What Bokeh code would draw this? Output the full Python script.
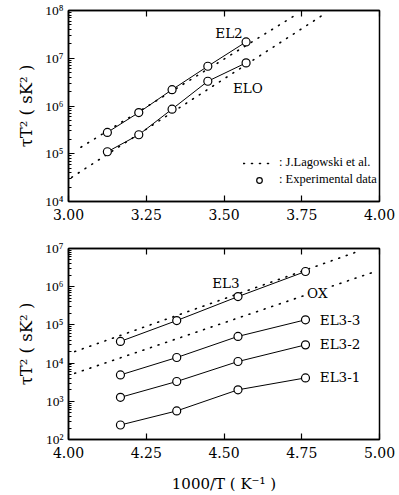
from bokeh.plotting import figure
from bokeh.models import (FixedTicker, CustomJSTickFormatter, LinearAxis, Label,
                          Legend, LegendItem, NumeralTickFormatter, Range1d)
from bokeh.layouts import column
from bokeh.embed import file_html
from bokeh.resources import INLINE

# ---------------- data ----------------
# upper panel: 1000/T (K^-1) and tau*T^2 (s K^2)
top_x = [3.125, 3.226, 3.333, 3.448, 3.571]
el2 = [2.8e5, 7.3e5, 2.2e6, 6.8e6, 2.2e7]
elo = [1.1e5, 2.5e5, 8.6e5, 3.3e6, 8.0e6]
lag_el2_x = [3.04, 3.74]
lag_el2_y = [1.37e5, 8.8e7]
lag_elo_x = [3.01, 3.82]
lag_elo_y = [3.2e4, 8.2e7]

# lower panel
bot_x = [4.167, 4.348, 4.545, 4.762]
el3 = [3.7e4, 1.3e5, 5.5e5, 2.5e6]
el3_3 = [4.9e3, 1.4e4, 5.0e4, 1.36e5]
el3_2 = [1.27e3, 3.3e3, 1.1e4, 3.0e4]
el3_1 = [240, 560, 2.0e3, 4.1e3]
lag_el3_x = [4.02, 4.94]
lag_el3_y = [2.0e4, 8.9e6]
lag_ox_x = [4.02, 4.98]
lag_ox_y = [5.4e3, 2.4e6]

top_xticks = [3.0, 3.25, 3.5, 3.75, 4.0]
bot_xticks = [4.0, 4.25, 4.5, 4.75, 5.0]
top_exps = [4, 5, 6, 7, 8]
bot_exps = [2, 3, 4, 5, 6, 7]

SERIF = "DejaVu Serif"
TIMES = "Liberation Serif"

YFMT = r"""
const sup = ["\u2070","\u00b9","\u00b2","\u00b3","\u2074","\u2075","\u2076","\u2077","\u2078","\u2079"];
const e = Math.round(Math.log10(tick));
return "10" + String(e).split("").map(c => sup[+c]).join("");
"""


def make_panel(xr, yr, xticks, exps, height, mb_top, mb_bottom, mb_right, xlabel):
    p = figure(width=399, height=height, x_range=Range1d(*xr), y_range=Range1d(*yr),
               y_axis_type="log", output_backend="svg", toolbar_location=None,
               min_border_left=68, min_border_right=mb_right,
               min_border_top=mb_top, min_border_bottom=mb_bottom)
    p.xgrid.grid_line_color = None
    p.ygrid.grid_line_color = None
    p.outline_line_color = "black"
    p.outline_line_width = 1.5
    p.background_fill_color = "white"
    p.border_fill_color = "white"

    majors = [10.0 ** e for e in exps]
    minors = [m * 10.0 ** e for e in exps[:-1] for m in range(2, 10)]

    xa = p.xaxis[0]
    xa.ticker = FixedTicker(ticks=xticks)
    xa.formatter = NumeralTickFormatter(format="0.00")
    xa.major_tick_in = 6
    xa.major_tick_out = 0
    xa.minor_tick_line_color = None
    xa.axis_line_width = 1.5
    xa.axis_line_color = "black"
    xa.major_tick_line_color = "black"
    xa.major_tick_line_width = 1.2
    xa.major_label_text_font = SERIF
    xa.major_label_text_font_size = "14px"
    xa.major_label_text_color = "black"
    xa.major_label_standoff = 7
    if xlabel:
        xa.axis_label = xlabel
        xa.axis_label_text_font = SERIF
        xa.axis_label_text_font_size = "15px"
        xa.axis_label_text_font_style = "normal"
        xa.axis_label_text_color = "black"
        xa.axis_label_standoff = 14

    ya = p.yaxis[0]
    ya.ticker = FixedTicker(ticks=majors, minor_ticks=minors)
    ya.formatter = CustomJSTickFormatter(code=YFMT)
    ya.major_tick_in = 6
    ya.major_tick_out = 0
    ya.minor_tick_in = 3
    ya.minor_tick_out = 0
    ya.axis_line_width = 1.5
    ya.axis_line_color = "black"
    ya.major_tick_line_color = "black"
    ya.minor_tick_line_color = "black"
    ya.major_tick_line_width = 1.2
    ya.major_label_text_font = TIMES
    ya.major_label_text_font_size = "13.5px"
    ya.major_label_text_color = "black"
    ya.major_label_standoff = 5
    ya.axis_label = "τT² ( sK² )"
    ya.axis_label_text_font = SERIF
    ya.axis_label_text_font_size = "16.5px"
    ya.axis_label_text_font_style = "normal"
    ya.axis_label_text_color = "black"
    ya.axis_label_standoff = 6

    top = LinearAxis(ticker=FixedTicker(ticks=xticks), major_tick_in=6, major_tick_out=0,
                     major_tick_line_width=1.2, major_tick_line_color="black",
                     axis_line_width=1.5, axis_line_color="black",
                     minor_tick_line_color=None, major_label_text_font_size="0px",
                     major_label_text_color=None, major_label_standoff=0)
    p.add_layout(top, "above")
    return p


# ---------------- upper panel ----------------
p1 = make_panel((3.0, 4.0), (1e4, 1e8), top_xticks, top_exps, 236, 10, 35, 19, None)

lag1 = p1.line(lag_el2_x, lag_el2_y, line_color="black", line_width=1.6,
               line_dash="1 7", line_cap="round")
p1.line(lag_elo_x, lag_elo_y, line_color="black", line_width=1.6,
        line_dash="1 7", line_cap="round")
p1.line(top_x, el2, line_color="black", line_width=1)
p1.line(top_x, elo, line_color="black", line_width=1)
circ1 = p1.scatter(top_x, el2, marker="circle", size=8, fill_color="white",
                   line_color="black", line_width=1.2)
p1.scatter(top_x, elo, marker="circle", size=8, fill_color="white",
           line_color="black", line_width=1.2)

lab_style = dict(text_font=SERIF, text_font_size="13.5px", text_color="black",
                 text_baseline="middle")
p1.add_layout(Label(x=3.516, y=10 ** 7.52, text="EL2", text_align="center", **lab_style))
p1.add_layout(Label(x=3.577, y=10 ** 6.37, text="ELO", text_align="center", **lab_style))

legend = Legend(items=[LegendItem(label=": J.Lagowski et al.", renderers=[lag1]),
                       LegendItem(label=": Experimental data", renderers=[circ1])],
                location=(175, 14), padding=0, margin=0, spacing=2,
                label_height=14, glyph_height=14, glyph_width=32, label_standoff=4,
                border_line_color=None, background_fill_alpha=0,
                label_text_font=TIMES, label_text_font_size="12.5px",
                label_text_color="black")
p1.add_layout(legend)

# ---------------- lower panel ----------------
p2 = make_panel((4.0, 5.0), (1e2, 1e7), bot_xticks, bot_exps, 259, 12, 54, 20,
                "1000/T ( K⁻¹ )")

p2.line(lag_el3_x, lag_el3_y, line_color="black", line_width=1.6,
        line_dash="1 7", line_cap="round")
p2.line(lag_ox_x, lag_ox_y, line_color="black", line_width=1.6,
        line_dash="1 7", line_cap="round")
for ys in (el3, el3_3, el3_2, el3_1):
    p2.line(bot_x, ys, line_color="black", line_width=1)
    p2.scatter(bot_x, ys, marker="circle", size=8, fill_color="white",
               line_color="black", line_width=1.2)

p2.add_layout(Label(x=4.506, y=10 ** 6.09, text="EL3", text_align="center", **lab_style))
p2.add_layout(Label(x=4.80, y=10 ** 5.83, text="OX", text_align="center",
                    background_fill_color="white", **lab_style))
p2.add_layout(Label(x=4.808, y=10 ** 5.13, text="EL3-3", text_align="left", **lab_style))
p2.add_layout(Label(x=4.808, y=10 ** 4.49, text="EL3-2", text_align="left", **lab_style))
p2.add_layout(Label(x=4.808, y=10 ** 3.64, text="EL3-1", text_align="left", **lab_style))

layout = column(p1, p2, spacing=0)
open("out.html", "w", encoding="utf-8").write(file_html(layout, INLINE))
